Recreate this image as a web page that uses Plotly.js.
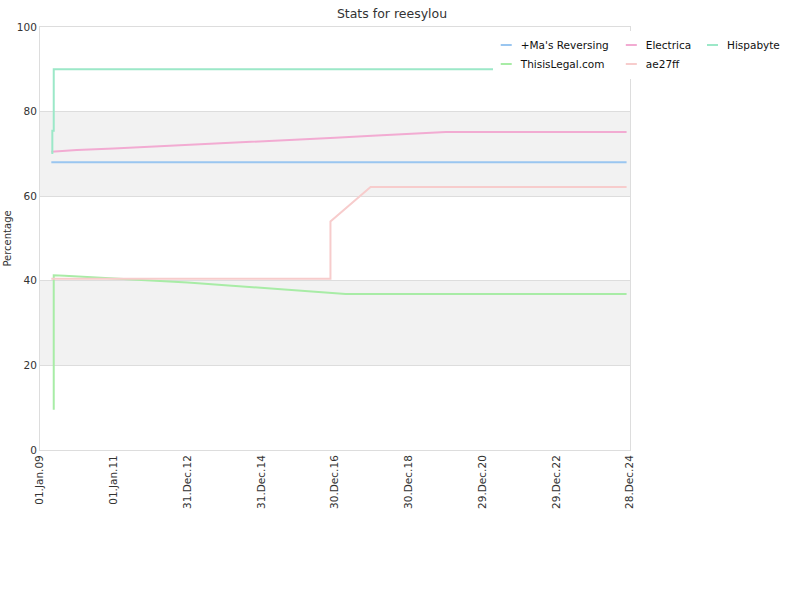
<!DOCTYPE html>
<html>
<head>
<meta charset="utf-8">
<script src="https://cdn.plot.ly/plotly-3.0.1.min.js"></script>
<style>html,body{margin:0;padding:0;background:#fff;}#chart{width:800px;height:600px;}</style>
</head>
<body>
<div id="chart"></div>
<script>
// ---- data ----
const seriesNames = ["+Ma's Reversing", "Electrica", "Hispabyte", "ThisisLegal.com", "ae27ff"];

const maDates = ["2009-04-23", "2024-11-24"];
const maValues = [68.0, 68.0];

const electricaDates = ["2009-04-23","2009-08-01","2010-01-01","2011-01-01","2012-01-01","2013-01-01","2014-01-01","2015-01-01","2016-01-01","2017-01-01","2018-01-01","2019-01-01","2020-01-01","2024-11-24"];
const electricaValues = [70.5, 70.7, 70.9, 71.3, 71.7, 72.1, 72.5, 72.9, 73.4, 73.8, 74.3, 74.7, 75.2, 75.2];

const hispaDates = ["2009-05-03","2009-05-03","2009-05-17","2009-05-17","2024-11-24"];
const hispaValues = [70.0, 75.5, 75.5, 90.0, 90.0];

const legalDates = ["2009-05-17","2009-05-17","2009-09-01","2010-06-01","2011-01-01","2012-01-01","2013-01-01","2014-01-01","2015-01-01","2016-01-01","2017-01-01","2017-04-15","2024-11-24"];
const legalValues = [9.5, 41.3, 41.2, 40.8, 40.5, 40.1, 39.6, 39.0, 38.4, 37.8, 37.2, 36.9, 36.9];

const aeDates = ["2009-04-23","2016-11-15","2016-11-15","2017-12-17","2024-11-24"];
const aeValues = [40.5, 40.5, 54.0, 62.2, 62.2];

const yTickVals = [0, 20, 40, 60, 80, 100];
const bandRanges = [[20, 40], [60, 80]];

// ---- styles ----
const colors = ["#9ac6f0", "#f2abd2", "#9ce8c8", "#a8eca6", "#f7cccc"];
const font = "DejaVu Sans, sans-serif";

const allDates = [maDates, electricaDates, hispaDates, legalDates, aeDates];
const allValues = [maValues, electricaValues, hispaValues, legalValues, aeValues];
const legendOf = ["legend", "legend2", "legend3", "legend", "legend2"];

const traces = seriesNames.map((name, i) => ({
  type: "scatter",
  mode: "lines",
  name: name,
  x: allDates[i],
  y: allValues[i],
  line: {color: colors[i], width: 2},
  legend: legendOf[i],
  hoverinfo: "none"
}));

const shapes = bandRanges.map(r => ({
  type: "rect", xref: "paper", yref: "y", x0: 0, x1: 1, y0: r[0], y1: r[1],
  fillcolor: "#f2f2f2", line: {width: 0}, layer: "below"
}));

const legendBase = {
  orientation: "v", yanchor: "top", xanchor: "left", y: 0.9915,
  bgcolor: "#ffffff", borderwidth: 0, itemwidth: 30,
  font: {family: font, size: 10.5, color: "#111"}, tracegroupgap: 0
};

const layout = {
  width: 800, height: 600,
  margin: {l: 40, r: 170, t: 27, b: 150, autoexpand: false},
  paper_bgcolor: "#ffffff", plot_bgcolor: "#ffffff",
  title: {text: "Stats for reesylou", font: {family: font, size: 12.5, color: "#333"}, x: 0.49, xanchor: "center", y: 0.985, yanchor: "top"},
  font: {family: font, color: "#333"},
  xaxis: {
    type: "date",
    range: ["2009-01-01", "2024-12-28"],
    tick0: "2009-01-01",
    dtick: 730 * 86400000,
    tickformat: "%d.%b.%y",
    tickangle: -90,
    tickfont: {family: font, size: 10.5, color: "#333"},
    showgrid: false,
    showline: true, linecolor: "#dddddd", linewidth: 1, mirror: true,
    ticks: "", zeroline: false
  },
  yaxis: {
    range: [0, 100],
    tickvals: yTickVals,
    tickfont: {family: font, size: 10.5, color: "#333"},
    showgrid: true, gridcolor: "#dddddd", gridwidth: 1,
    showline: true, linecolor: "#dddddd", linewidth: 1, mirror: true,
    ticks: "", zeroline: false,
    title: {text: "Percentage", font: {family: font, size: 10, color: "#333"}, standoff: 3}
  },
  shapes: shapes,
  showlegend: true,
  legend: Object.assign({}, legendBase, {x: 0.747}),
  legend2: Object.assign({}, legendBase, {x: 0.959}),
  legend3: Object.assign({}, legendBase, {x: 1.0966})
};

Plotly.newPlot("chart", traces, layout, {displayModeBar: false, staticPlot: true}).then(gd => {
  // shorter legend key lines, placed just before the label
  gd.querySelectorAll(".legendlines path").forEach(p => p.setAttribute("d", "M20,0h11"));
  // trim the empty left part of each legend background
  const trim = {legend: 12, legend2: 4, legend3: 12};
  Object.keys(trim).forEach(cls => {
    gd.querySelectorAll("g." + cls + " > rect.bg").forEach(r => {
      const x = parseFloat(r.getAttribute("x") || 0);
      const w = parseFloat(r.getAttribute("width") || 0);
      r.setAttribute("x", x + trim[cls]);
      r.setAttribute("width", Math.max(0, w - trim[cls]));
    });
  });
});
</script>
</body>
</html>
